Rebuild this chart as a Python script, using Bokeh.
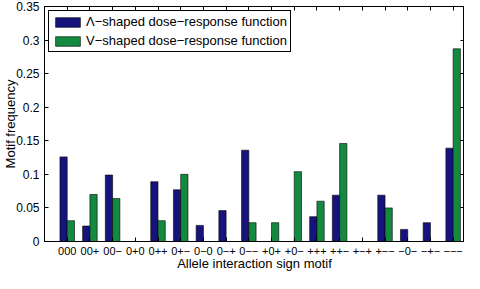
from bokeh.plotting import figure
from bokeh.models import Range1d, FixedTicker, LinearAxis, Legend, LegendItem, ColumnDataSource
from bokeh.transform import dodge
from bokeh.embed import file_html
from bokeh.resources import INLINE

motifs = ["000", "00+", "00−", "0+0", "0++", "0+−", "0−0", "0−+", "0−−",
          "+0+", "+0−", "+++", "++−", "+−+", "+−−", "−0−", "−+−", "−−−"]
lambda_freq = [0.126, 0.023, 0.099, 0.0, 0.089, 0.077, 0.024, 0.046, 0.136,
               0.0, 0.0, 0.037, 0.069, 0.0, 0.069, 0.018, 0.028, 0.139]
v_freq = [0.031, 0.070, 0.064, 0.0, 0.031, 0.100, 0.0, 0.0, 0.028,
          0.028, 0.104, 0.060, 0.146, 0.0, 0.050, 0.0, 0.0, 0.287]
y_ticks = [0, 0.05, 0.1, 0.15, 0.2, 0.25, 0.3, 0.35]
y_tick_labels = ["0", "0.05", "0.1", "0.15", "0.2", "0.25", "0.3", "0.35"]
series_names = ["Λ−shaped dose−response function", "V−shaped dose−response function"]

positions = list(range(1, len(motifs) + 1))
src = ColumnDataSource(dict(pos=positions, lam=lambda_freq, v=v_freq))

FONT = "Liberation Sans"
BLUE = "#16147c"
GREEN = "#138a40"

p = figure(width=464, height=273, x_range=Range1d(0, 18.5), y_range=Range1d(0, 0.35),
           output_backend="svg", toolbar_location=None,
           min_border_left=0, min_border_right=0, min_border_top=6, min_border_bottom=0)
p.grid.visible = False
p.outline_line_color = "black"
p.background_fill_color = "white"

r1 = p.vbar(x=dodge("pos", -0.16, range=p.x_range), top="lam", width=0.32, source=src,
            fill_color=BLUE, line_color="#000000", line_width=0.6)
r2 = p.vbar(x=dodge("pos", 0.16, range=p.x_range), top="v", width=0.32, source=src,
            fill_color=GREEN, line_color="#000000", line_width=0.6)

def style_axis(ax):
    ax.axis_line_color = "black"
    ax.major_tick_line_color = "black"
    ax.major_tick_in = 4
    ax.major_tick_out = 0
    ax.minor_tick_line_color = None
    ax.major_label_text_font = FONT
    ax.major_label_text_color = "black"
    ax.axis_label_text_font = FONT
    ax.axis_label_text_font_style = "normal"
    ax.axis_label_text_color = "black"

xax = p.xaxis[0]
style_axis(xax)
xax.ticker = FixedTicker(ticks=positions)
xax.major_label_overrides = {i: m for i, m in zip(positions, motifs)}
xax.major_label_text_font_size = "11px"
xax.major_label_standoff = 5
xax.axis_label = "Allele interaction sign motif"
xax.axis_label_text_font_size = "13px"
xax.axis_label_standoff = -2

yax = p.yaxis[0]
style_axis(yax)
yax.ticker = FixedTicker(ticks=y_ticks)
yax.major_label_overrides = {t: l for t, l in zip(y_ticks, y_tick_labels)}
yax.major_label_text_font_size = "12px"
yax.major_label_standoff = 5
yax.axis_label = "Motif frequency"
yax.axis_label_text_font_size = "13px"
yax.axis_label_standoff = -5

top_ax = LinearAxis(ticker=FixedTicker(ticks=positions))
style_axis(top_ax)
top_ax.major_label_text_font_size = "0px"
top_ax.major_label_text_color = None
top_ax.major_label_standoff = 0
p.add_layout(top_ax, "above")

right_ax = LinearAxis(ticker=FixedTicker(ticks=y_ticks))
style_axis(right_ax)
right_ax.major_label_text_font_size = "0px"
right_ax.major_label_text_color = None
right_ax.major_label_standoff = 0
p.add_layout(right_ax, "right")

legend = Legend(items=[LegendItem(label=series_names[0], renderers=[r1]),
                       LegendItem(label=series_names[1], renderers=[r2])],
                location="top_left", border_line_color="black", border_line_width=1,
                border_line_alpha=1.0,
                background_fill_color="white", background_fill_alpha=1.0,
                margin=4, padding=3, spacing=4, glyph_width=31, glyph_height=12,
                label_height=12, label_standoff=3, label_text_font=FONT,
                label_text_font_size="13px", label_text_color="black")
p.add_layout(legend)

open("out.html", "w").write(file_html(p, INLINE))
